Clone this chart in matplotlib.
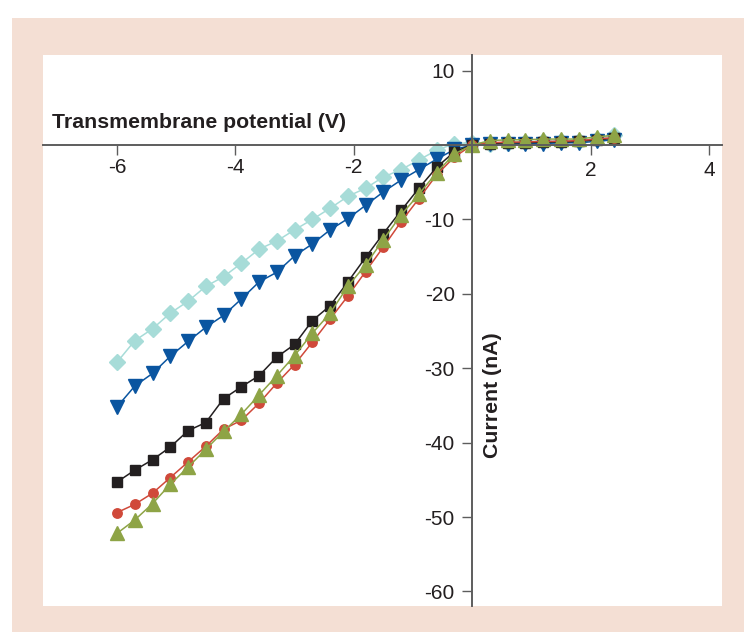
import matplotlib
matplotlib.use("Agg")
import matplotlib.pyplot as plt
import matplotlib.transforms as mtransforms
from matplotlib.patches import Rectangle

plt.rcParams['font.family'] = ['Liberation Sans', 'DejaVu Sans']

# transmembrane potential (V)
voltage = [-6.0, -5.7, -5.4, -5.1, -4.8, -4.5, -4.2, -3.9, -3.6, -3.3,
           -3.0, -2.7, -2.4, -2.1, -1.8, -1.5, -1.2, -0.9, -0.6, -0.3,
           0.0, 0.3, 0.6, 0.9, 1.2, 1.5, 1.8, 2.1, 2.4]

# current (nA), one list per trace
cur_cyan = [-29.2, -26.3, -24.7, -22.6, -21.0, -19.0, -17.7, -15.9, -14.0, -12.9,
            -11.4, -10.0, -8.5, -6.9, -5.8, -4.3, -3.3, -2.0, -0.7, 0.2,
            0.3, 0.2, 0.3, 0.4, 0.5, 0.5, 0.6, 0.8, 1.3]
cur_blue = [-35.2, -32.4, -30.7, -28.4, -26.4, -24.5, -22.9, -20.7, -18.4, -17.1,
            -14.9, -13.3, -11.4, -9.9, -8.1, -6.3, -4.7, -3.3, -1.9, -0.6,
            0.0, 0.1, 0.1, 0.2, 0.2, 0.3, 0.3, 0.5, 0.7]
cur_black = [-45.3, -43.7, -42.3, -40.6, -38.4, -37.3, -34.1, -32.5, -31.0, -28.5,
             -26.8, -23.6, -21.6, -18.4, -15.1, -11.9, -8.8, -5.8, -3.0, -0.9,
             0.0, 0.2, 0.3, 0.3, 0.4, 0.4, 0.5, 0.7, 0.9]
cur_red = [-49.4, -48.3, -46.8, -44.7, -42.6, -40.5, -38.2, -37.0, -34.7, -32.0,
           -29.5, -26.5, -23.4, -20.3, -17.0, -13.7, -10.3, -7.2, -4.0, -1.6,
           0.0, 0.3, 0.4, 0.4, 0.5, 0.5, 0.6, 0.8, 1.0]
cur_green = [-52.2, -50.4, -48.2, -45.6, -43.3, -40.9, -38.5, -36.2, -33.6, -31.0,
             -28.3, -25.3, -22.6, -19.0, -16.1, -12.7, -9.4, -6.6, -3.7, -1.2,
             0.0, 0.6, 0.7, 0.7, 0.8, 0.8, 0.8, 1.1, 1.3]

x_ticks = [-6, -4, -2, 2, 4]
x_labels = ['-6', '-4', '-2', '2', '4']
y_ticks = [10, -10, -20, -30, -40, -50, -60]
y_labels = ['10', '-10', '-20', '-30', '-40', '-50', '-60']

TEXT = '#231f20'
AXIS = '#5d5d5d'

fig = plt.figure(figsize=(7.44, 6.32), dpi=100)
fig.patch.set_facecolor('white')
fig.patches.append(Rectangle((12 / 744, 0), 732 / 744, 614 / 632,
                             transform=fig.transFigure, facecolor='#f4dfd4',
                             edgecolor='none', zorder=-10))

ax = fig.add_axes([43 / 744, 26 / 632, 679 / 744, 551 / 632])
ax.set_facecolor('white')

# draw order matters: later traces sit on top
ax.plot(voltage, cur_cyan, color='#a7dcd8', lw=1.1, marker='D', ms=8.5, mec='#a7dcd8')
ax.plot(voltage, cur_blue, color='#0a55a0', lw=1.1, marker='v', ms=9.5, mec='#0a55a0')
ax.plot(voltage, cur_black, color='#231f20', lw=1.1, marker='s', ms=6.5, mec='#231f20')
ax.plot(voltage, cur_red, color='#d0493a', lw=1.1, marker='o', ms=6.8, mec='#d0493a')
ax.plot(voltage, cur_green, color='#8ea446', lw=1.1, marker='^', ms=9.5, mec='#8ea446')

ax.set_xlim(-7.25, 4.22)
ax.set_ylim(-61.96, 12.1)

for side in ['top', 'right']:
    ax.spines[side].set_visible(False)
for side in ['left', 'bottom']:
    ax.spines[side].set_position(('data', 0))
    ax.spines[side].set_color(AXIS)
    ax.spines[side].set_linewidth(1.4)

ax.set_xticks(x_ticks)
ax.set_xticklabels(x_labels)
ax.set_yticks(y_ticks)
ax.set_yticklabels(y_labels)
ax.tick_params(axis='x', direction='out', length=7, width=1.0, color=AXIS,
               labelsize=15, labelcolor=TEXT, pad=2)
ax.tick_params(axis='y', direction='out', length=7, width=1.0, color=AXIS,
               labelsize=15, labelcolor=TEXT, pad=5.5)

# the positive voltage labels sit a little lower in the original
shift = mtransforms.ScaledTranslation(0, -3.5 / 100, fig.dpi_scale_trans)
for lbl in ax.get_xticklabels()[3:]:
    lbl.set_transform(lbl.get_transform() + shift)

ax.text(0.0133, 0.8675, 'Transmembrane potential (V)', transform=ax.transAxes,
        ha='left', va='baseline', fontsize=15.3, fontweight='bold', color=TEXT)
ax.text(0.6613, 0.383, 'Current (nA)', transform=ax.transAxes, rotation=90,
        ha='center', va='center', fontsize=15.3, fontweight='bold', color=TEXT)

fig.savefig('out.png', dpi=100)
